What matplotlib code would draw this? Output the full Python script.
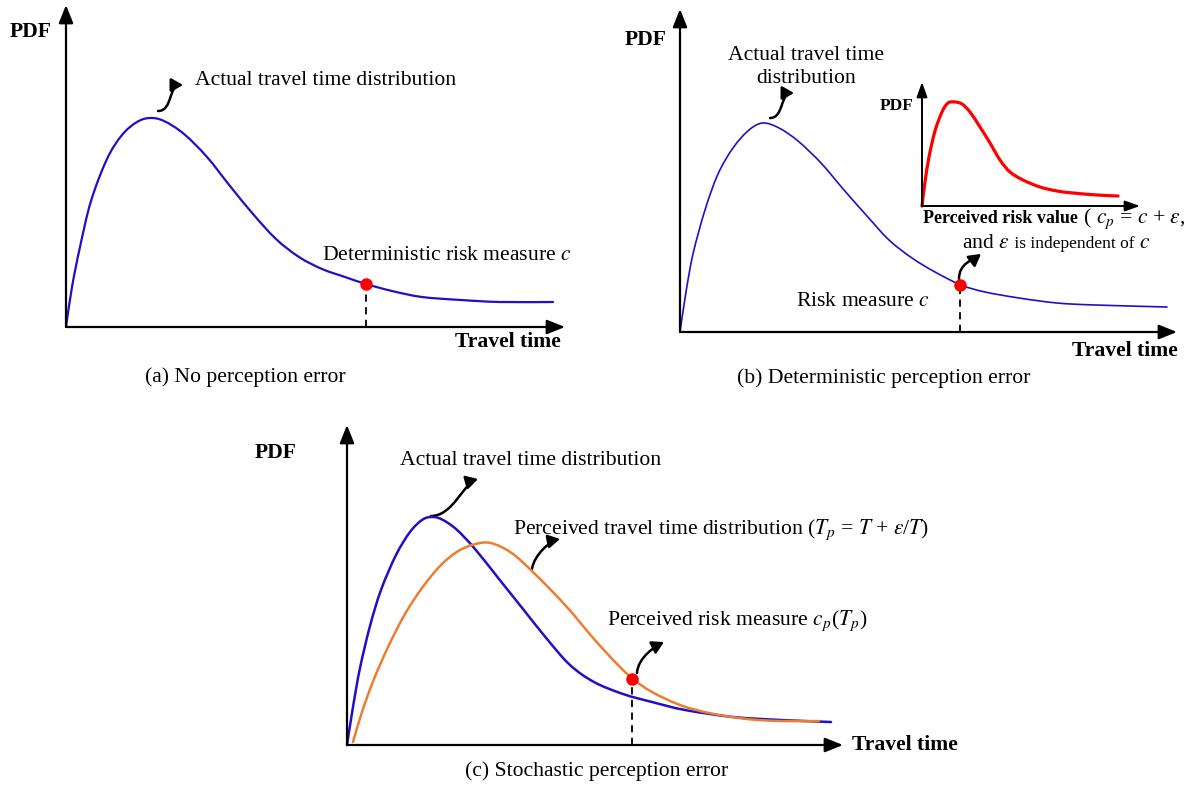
import matplotlib
matplotlib.use('Agg')
import matplotlib.pyplot as plt
from matplotlib.path import Path
from matplotlib.patches import FancyArrowPatch, PathPatch

plt.rcParams['font.family'] = ['Liberation Serif', 'DejaVu Serif']
plt.rcParams['mathtext.fontset'] = 'stix'

W, H = 1195, 789

# curves (travel time / pdf in panel units)
a_time = [0, 6, 14, 25, 41, 56, 71, 84, 98, 118, 141, 164, 187, 210, 233, 256, 279, 300, 326, 356, 395, 434, 487]
a_pdf = [0, 40, 80, 126, 168, 192, 205, 209, 206, 193, 170, 141, 113, 88, 70, 58, 50, 43, 36, 30, 27, 25, 25]
a_risk = (300, 43)

b_time = [0, 6, 13, 25, 38, 53, 69, 83, 99, 118, 141, 164, 187, 209, 232, 255, 281, 305, 339, 377, 415, 487]
b_pdf = [0, 40, 78, 122, 158, 184, 202, 209, 204, 191, 169, 142, 116, 92, 74, 60, 47, 40, 34, 29, 27, 25]
b_risk = (280, 47)

inset_value = [0, 3, 7, 13, 20, 26, 33, 40, 48, 58, 68, 78, 88, 101, 118, 135, 151, 175, 196]
inset_pdf = [0, 24, 49, 75, 94, 103, 104, 102, 94, 79, 63, 46, 34, 26, 19, 15, 13, 11, 10]

c_time = [0, 6, 13, 23, 34, 49, 63, 75, 84, 94, 109, 128, 152, 176, 200, 223, 247, 276, 305, 338, 386, 434, 484]
c_pdf = [0, 38, 77, 119, 155, 190, 213, 225, 228, 226, 216, 196, 166, 136, 106, 80, 63, 51, 43, 35, 28, 25, 23]
c_perc_time = [6, 15, 27, 42, 58, 75, 94, 113, 133, 147, 166, 190, 219, 247, 271, 286, 305, 333, 362, 400, 434, 472]
c_perc_pdf = [3, 33, 66, 100, 131, 157, 180, 195, 202, 201, 191, 169, 139, 106, 80, 66, 53, 40, 32, 26, 24, 24]
c_risk = (285, 66)

BLUE = '#1f10c8'
ORANGE = '#ed7d31'
FS = 15.6

fig = plt.figure(figsize=(W / 100, H / 100), dpi=100)
bg = fig.add_axes([0, 0, 1, 1])
bg.set_xlim(0, W)
bg.set_ylim(H, 0)
bg.axis('off')


def panel(x0, y0, x1, y1, lw=1.6, hl=0.55, hw=0.22):
    ax = fig.add_axes([x0 / W, 1 - y0 / H, (x1 - x0) / W, (y0 - y1) / H])
    ax.set_xlim(0, x1 - x0)
    ax.set_ylim(0, y0 - y1)
    ax.axis('off')
    style = f'-|>,head_length={hl},head_width={hw}'
    for tip in [(1, 0), (0, 1)]:
        ax.annotate('', xy=tip, xytext=(0, 0), xycoords='axes fraction',
                    arrowprops=dict(arrowstyle=style, lw=lw, color='k',
                                    mutation_scale=20, shrinkA=0, shrinkB=0))
    return ax


def smooth(ax, xs, ys, color, lw):
    # draw the read points as one smooth curve (Catmull-Rom -> cubic bezier)
    pts = list(zip(xs, ys))
    n = len(pts)
    verts = [pts[0]]
    codes = [Path.MOVETO]
    for i in range(n - 1):
        p0 = pts[max(i - 1, 0)]
        p1 = pts[i]
        p2 = pts[i + 1]
        p3 = pts[min(i + 2, n - 1)]
        c1 = (p1[0] + (p2[0] - p0[0]) / 6, p1[1] + (p2[1] - p0[1]) / 6)
        c2 = (p2[0] - (p3[0] - p1[0]) / 6, p2[1] - (p3[1] - p1[1]) / 6)
        verts += [c1, c2, p2]
        codes += [Path.CURVE4] * 3
    ax.add_patch(PathPatch(Path(verts, codes), fill=False, edgecolor=color, lw=lw,
                           clip_on=False, capstyle='round', joinstyle='round'))


def risk_mark(ax, pt):
    ax.plot([pt[0], pt[0]], [0, pt[1]], color='k', lw=1.3, dashes=(4, 3), clip_on=False)
    ax.plot(pt[0], pt[1], 'o', color='red', ms=8, clip_on=False, zorder=5)


def squiggle(p0, p1, t0, t1):
    verts = [p0, (p0[0] + t0[0], p0[1] + t0[1]), (p1[0] - t1[0], p1[1] - t1[1]), p1]
    path = Path(verts, [Path.MOVETO, Path.CURVE4, Path.CURVE4, Path.CURVE4])
    bg.add_patch(FancyArrowPatch(path=path, arrowstyle='-|>,head_length=0.35,head_width=0.2',
                                 mutation_scale=20, lw=1.8, color='k'))


# (a) No perception error
ax = panel(66, 327, 565, 5)
smooth(ax, a_time, a_pdf, BLUE, 1.6)
risk_mark(ax, a_risk)
bg.text(10, 32, 'PDF', fontsize=FS, fontweight='bold', va='center')
bg.text(195, 80, 'Actual travel time distribution', fontsize=FS, va='center')
bg.text(322, 255, 'Deterministic risk measure $c$', fontsize=FS, va='center')
bg.text(561, 342, 'Travel time', fontsize=FS, fontweight='bold', va='center', ha='right')
bg.text(245, 377, '(a) No perception error', fontsize=FS, va='center', ha='center')
squiggle((158, 111), (183, 85), (15, 0), (15, 0))

# (b) Deterministic perception error
ax = panel(680, 332, 1177, 9)
smooth(ax, b_time, b_pdf, BLUE, 1.2)
risk_mark(ax, b_risk)
bg.text(625, 40, 'PDF', fontsize=FS, fontweight='bold', va='center')
bg.text(806, 67, 'Actual travel time\ndistribution', fontsize=FS, va='center', ha='center',
        multialignment='center', linespacing=1.25)
bg.text(796, 301, 'Risk measure $c$', fontsize=FS, va='center')
bg.text(1178, 351, 'Travel time', fontsize=FS, fontweight='bold', va='center', ha='right')
bg.text(884, 378, '(b) Deterministic perception error', fontsize=FS, va='center', ha='center')
squiggle((770, 118), (794, 93), (14, 0), (14, 0))
squiggle((959, 279), (981, 254), (0, -16), (8, -6))

ins = panel(922, 206, 1140, 82, lw=1.4, hl=0.45, hw=0.16)
smooth(ins, inset_value, inset_pdf, 'red', 2.3)
bg.text(880, 106, 'PDF', fontsize=12.5, fontweight='bold', va='center')
t1 = bg.text(923, 223, 'Perceived risk value', fontsize=13, fontweight='bold', va='baseline')
bg.annotate(' ( $c_p$ = $c$ + $\\varepsilon$,', xy=(1, 223), xycoords=(t1, 'data'),
            fontsize=FS, va='baseline')
t2 = bg.text(962, 248, 'and $\\varepsilon$', fontsize=FS, va='baseline')
t3 = bg.annotate(' is independent of ', xy=(1, 248), xycoords=(t2, 'data'),
                 fontsize=12.5, va='baseline')
bg.annotate('$c$', xy=(1, 248), xycoords=(t3, 'data'), fontsize=FS, va='baseline')

# (c) Stochastic perception error
ax = panel(347, 745, 843, 425)
smooth(ax, c_time, c_pdf, BLUE, 1.8)
smooth(ax, c_perc_time, c_perc_pdf, ORANGE, 1.8)
risk_mark(ax, c_risk)
bg.text(255, 453, 'PDF', fontsize=FS, fontweight='bold', va='center')
bg.text(400, 460, 'Actual travel time distribution', fontsize=FS, va='center')
bg.text(513, 530, 'Perceived travel time distribution ($T_p$ = $T$ + $\\varepsilon$/$T$)',
        fontsize=FS, va='center')
bg.text(607, 621, 'Perceived risk measure $c_p$($T_p$)', fontsize=FS, va='center')
bg.text(852, 745, 'Travel time', fontsize=FS, fontweight='bold', va='center')
bg.text(597, 771, '(c) Stochastic perception error', fontsize=FS, va='center', ha='center')
squiggle((431, 516), (478, 479), (22, 0), (14, -4))
squiggle((532, 569), (560, 539), (2, -14), (10, -2))
squiggle((637, 673), (664, 642), (1, -16), (8, -4))

fig.savefig('out.png', dpi=100)
